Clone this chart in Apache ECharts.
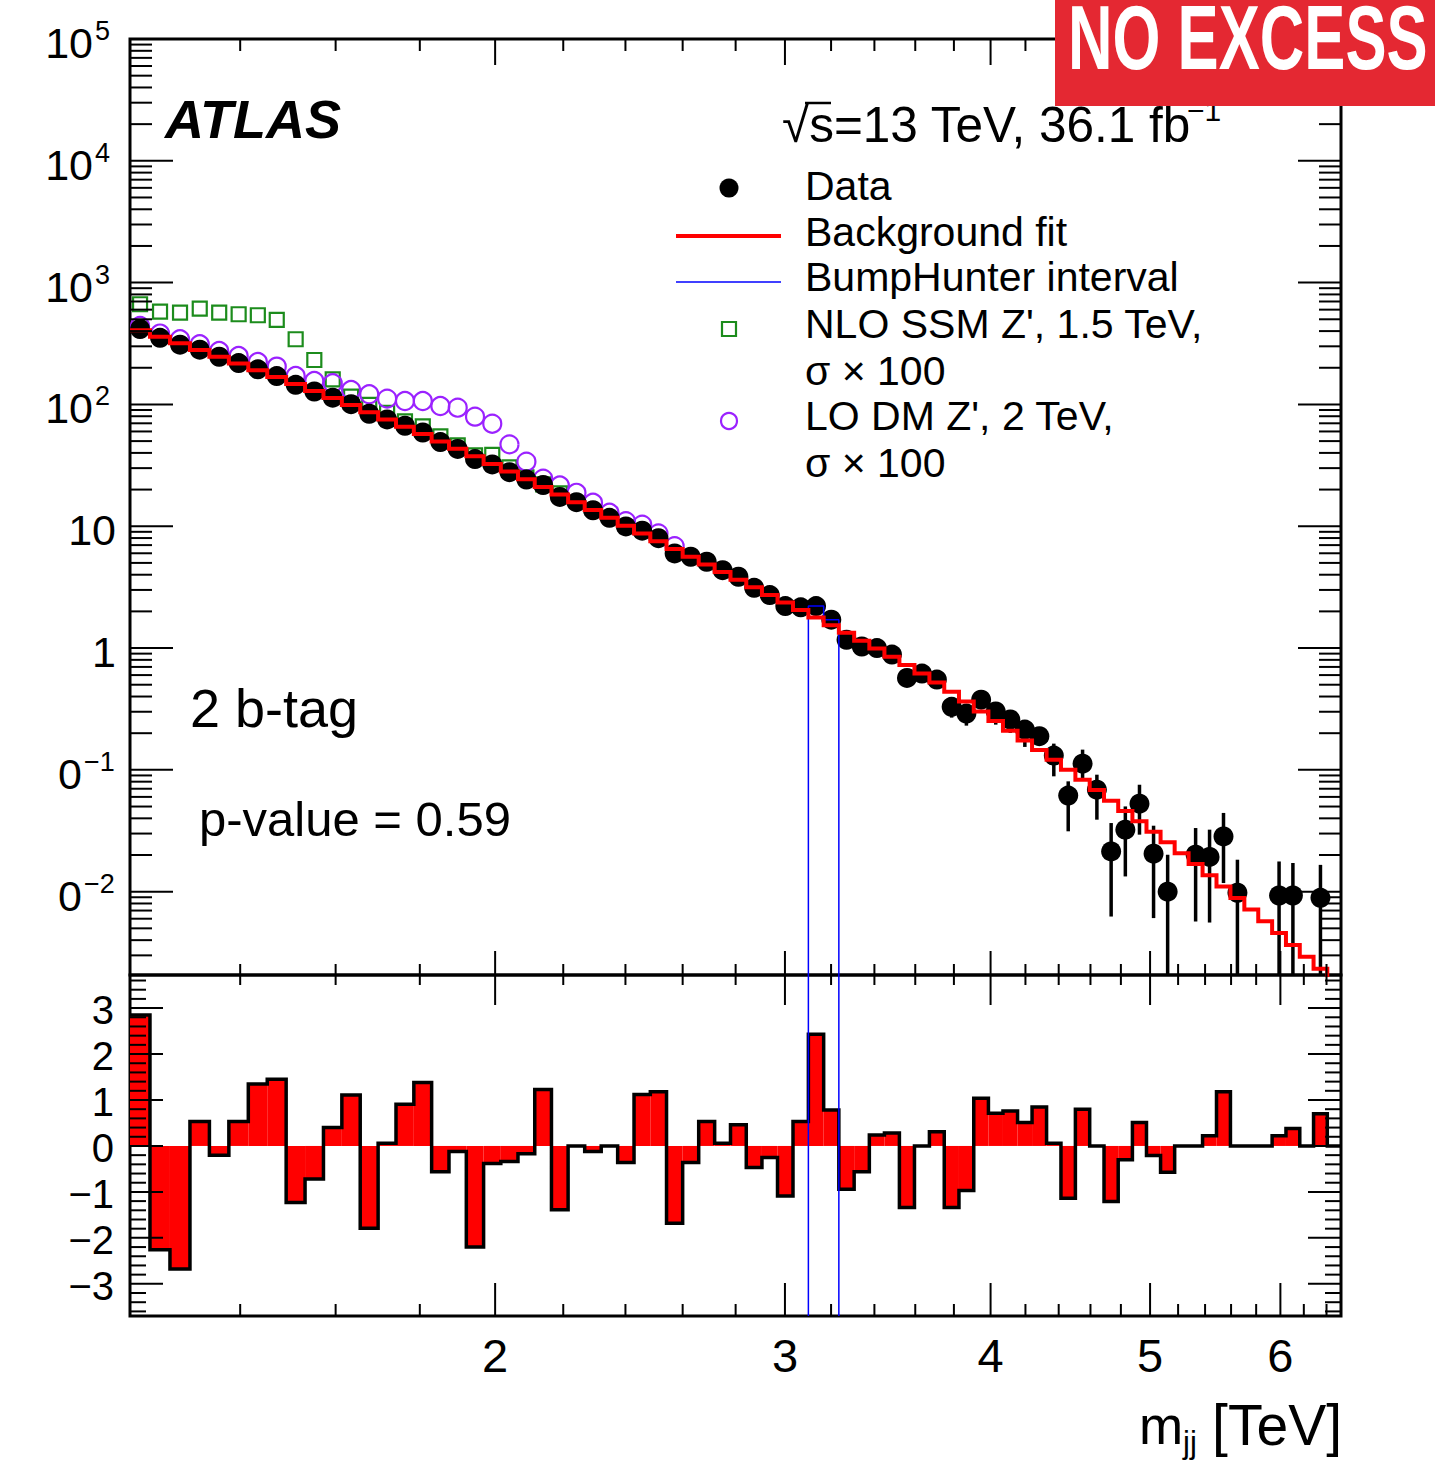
<!DOCTYPE html>
<html>
<head>
<meta charset="utf-8">
<script src="https://cdn.jsdelivr.net/npm/echarts@6/dist/echarts.min.js"></script>
<style>
html,body{margin:0;padding:0;background:#fff;}
#chart{width:1435px;height:1461px;}
</style>
</head>
<body>
<div id="chart"></div>
<script>
// ---------------- data ----------------
// bin edges of m_jj in GeV
const BIN_EDGES_GEV = [1200,1234,1269,1305,1341,1378,1416,1454,1493,1533,1573,1614,1656,1698,1741,1785,1830,1875,1921,1968,
  2016,2065,2114,2164,2215,2267,2320,2374,2429,2485,2542,2600,2659,2719,2780,2842,2905,2969,3034,3100,
  3167,3235,3305,3376,3448,3521,3596,3672,3749,3827,3907,3988,4070,4154,4239,4326,4414,4504,4595,4688,
  4782,4878,4975,5074,5175,5277,5381,5487,5595,5705,5817,5931,6047,6165,6285,6407,6531];

// data per bin (null = empty bin)
const DATA = [416.2,352.2,309.6,281.5,246.3,218.6,194.1,170.8,144.9,127.7,
  113.7,100.5,83.8,75.3,66.8,58.8,49.1,43.1,35.6,32.2,
  27.8,24.2,21.8,17.4,15.75,13.53,11.72,9.96,9.19,7.98,
  5.98,5.62,5.11,4.36,3.85,3.12,2.72,2.21,2.16,2.21,
  1.71,1.17,1.03,1.00,0.884,0.569,0.617,0.551,0.329,0.290,
  0.377,0.302,0.259,0.214,0.189,0.131,0.0615,0.1125,0.0688,0.0214,
  0.0323,0.0528,0.0205,0.0100,null,0.0201,0.0193,0.0284,0.0098,null,
  null,0.0093,0.0093,null,0.0089,null];

// visible error bars, bins 49..76 (lower 0 = runs to the bottom of the frame)
const ERR_FIRST_BIN = 49;
const DATA_ERR_LO = [0.2685,0.2307,0.3226,0.2352,0.2010,0.1543,0.1611,0.0885,0.0313,0.0830,0.0390,0.00625,0.01334,0.02938,
  0.00607,0,null,0.00569,0.00558,0.01177,0,null,null,0,0,null,0,null];
const DATA_ERR_HI = [0.3775,0.3243,0.4416,0.3548,0.3027,0.2506,0.2208,0.1642,0.0805,0.1466,0.0913,0.0366,0.0501,0.0755,
  0.0348,0.0201,null,0.0333,0.0323,0.0443,0.0183,null,null,0.0177,0.0172,null,0.0166,null];

// background fit per bin
const FIT = [406.2,359.4,317.5,280.0,246.8,217.3,191.0,167.8,147.2,129.0,
  113.0,98.8,86.3,75.3,65.7,57.2,49.7,43.2,37.5,32.5,
  28.1,24.3,21.0,18.2,15.75,13.59,11.72,10.11,8.73,7.53,
  6.51,5.63,4.86,4.21,3.64,3.15,2.73,2.37,2.05,1.78,
  1.54,1.333,1.150,0.991,0.850,0.727,0.617,0.522,0.437,0.3634,
  0.3019,0.2513,0.2092,0.1744,0.1455,0.1211,0.1004,0.0829,0.0683,0.0559,
  0.0460,0.0378,0.0311,0.0254,0.0207,0.01686,0.01366,0.01103,0.00888,0.00713,
  0.00571,0.00457,0.00365,0.00292,0.00233,0.00185];

// NLO SSM Z' 1.5 TeV (x100) markers, first bins
const SSM_ZPRIME = [664.6,578.8,567.9,612.6,567.9,550.0,539.8,493.7,342.7,231.6,160.8,115.9,
  99.2,85.3,72.6,66.1,54.7,46.1,38.2,38.5,30.4,25.2,22.1,18.6];
// LO DM Z' 2 TeV (x100) markers, first bins
const DM_ZPRIME = [440.8,381.6,342.7,311.7,274.7,249.9,223.0,204.4,171.2,155.7,149.1,131.3,
  121.1,111.6,106.6,106.6,97.0,94.1,79.4,69.5,47.0,33.9,24.6,21.6,18.8,15.6,12.9,11.0,10.3,8.73,6.86];

// significance per bin (lower panel)
const SIGNIFICANCE = [2.85,-2.26,-2.68,0.53,-0.20,0.53,1.35,1.45,-1.23,-0.72,
  0.40,1.11,-1.79,0.06,0.91,1.38,-0.56,-0.12,-2.20,-0.38,
  -0.34,-0.17,1.23,-1.39,0.0,-0.12,0.0,-0.36,1.12,1.18,
  -1.68,-0.36,0.53,0.06,0.46,-0.47,-0.25,-1.09,0.53,2.43,
  0.78,-0.94,-0.56,0.24,0.28,-1.34,0.0,0.31,-1.34,-0.97,
  1.04,0.71,0.76,0.51,0.85,0.06,-1.14,0.80,0.0,-1.21,
  -0.30,0.51,-0.21,-0.57,0.0,0.0,0.22,1.18,0.0,0.0,
  0.0,0.22,0.38,0.0,0.70,0.0];

// BumpHunter interval [TeV]
const BUMPHUNTER_INTERVAL = [3.100, 3.235];

// axis ranges and ticks
const X_MIN = 1.2, X_MAX = 6.531;
const Y_MIN = 0.00207, Y_MAX = 1e5;
const R_MIN = -3.7, R_MAX = 3.72;
const X_MAJOR_TICKS = [2, 3, 4, 5, 6];
const X_TICK_LABELS = ['2', '3', '4', '5', '6'];
const X_MINOR_TICKS = [1.4,1.6,1.8,2.2,2.4,2.6,2.8,3.2,3.4,3.6,3.8,4.2,4.4,4.6,4.8,5.2,5.4,5.6,5.8,6.2,6.4];
const Y_TICK_VALUES = [1e5, 1e4, 1e3, 1e2, 10, 1, 0.1, 0.01];
const Y_TICK_BASES  = ['10', '10', '10', '10', '10', '1', '0', '0'];
const Y_TICK_SUPS   = ['5', '4', '3', '2', '', '', '\u22121', '\u22122'];
const R_TICK_VALUES = [-3, -2, -1, 0, 1, 2, 3];
const R_TICK_LABELS = ['\u22123', '\u22122', '\u22121', '0', '1', '2', '3'];

// ---------------- derived tables for the library ----------------
const FONT = '"Liberation Sans", Arial, Helvetica, sans-serif';
const edgesTeV = BIN_EDGES_GEV.map(e => e / 1000);
const centers = DATA.map((_, i) => (edgesTeV[i] + edgesTeV[i + 1]) / 2);
const dataPts = [];
DATA.forEach((v, i) => { if (v !== null) dataPts.push([centers[i], v]); });
const errPts = [];
DATA_ERR_LO.forEach((lo, k) => {
  if (lo === null) return;
  const i = ERR_FIRST_BIN - 1 + k;
  errPts.push([centers[i], Math.max(lo, Y_MIN), DATA_ERR_HI[k]]);
});
const fitPts = [];
FIT.forEach((v, i) => { fitPts.push([edgesTeV[i], v]); fitPts.push([edgesTeV[i + 1], v]); });
const ssmPts = SSM_ZPRIME.map((v, i) => [centers[i], v]);
const dmPts = DM_ZPRIME.map((v, i) => [centers[i], v]);
const sigRects = SIGNIFICANCE.map((s, i) => [edgesTeV[i], edgesTeV[i + 1], s]);
const sigLine = [];
SIGNIFICANCE.forEach((s, i) => { sigLine.push([edgesTeV[i], s]); sigLine.push([edgesTeV[i + 1], s]); });
// BumpHunter histogram in the top panel follows the data in the interval bins
const bhPts = [];
DATA.forEach((v, i) => {
  const lo = edgesTeV[i], hi = edgesTeV[i + 1];
  if (lo >= BUMPHUNTER_INTERVAL[0] - 1e-9 && hi <= BUMPHUNTER_INTERVAL[1] + 1e-9) {
    if (bhPts.length === 0) bhPts.push([lo, Y_MIN]);
    bhPts.push([lo, v]); bhPts.push([hi, v]);
  }
});
bhPts.push([BUMPHUNTER_INTERVAL[1], Y_MIN]);

// ---------------- frame ticks & labels ----------------
function lineEl(ch, x1, y1, x2, y2, w) {
  ch.push({type: 'line', shape: {x1, y1, x2, y2}, style: {stroke: '#000', lineWidth: w || 2}});
}
function textEl(ch, x, y, text, size, align, lh) {
  ch.push({type: 'text', x, y, style: {
    text, fill: '#000', font: size + 'px ' + FONT, lineHeight: lh || size,
    textAlign: align, align: align, textVerticalAlign: 'middle', verticalAlign: 'middle'
  }});
}
function mainFrame(params, api) {
  const ch = [];
  const xL = api.coord([X_MIN, 1])[0], xR = api.coord([X_MAX, 1])[0];
  const yT = api.coord([2, Y_MAX])[1], yB = api.coord([2, Y_MIN])[1];
  for (let k = -3; k <= 4; k++) {
    for (let j = 1; j <= 9; j++) {
      const v = j * Math.pow(10, k);
      if (v <= Y_MIN || v >= Y_MAX * 0.999) continue;
      const y = api.coord([2, v])[1];
      const len = j === 1 ? 43 : 22;
      lineEl(ch, xL, y, xL + len, y); lineEl(ch, xR, y, xR - len, y);
    }
  }
  X_MINOR_TICKS.forEach(t => { const x = api.coord([t, 1])[0]; lineEl(ch, x, yT, x, yT + 12); lineEl(ch, x, yB, x, yB - 11); });
  X_MAJOR_TICKS.forEach(t => { const x = api.coord([t, 1])[0]; lineEl(ch, x, yT, x, yT + 26); lineEl(ch, x, yB, x, yB - 24); });
  Y_TICK_VALUES.forEach((v, i) => {
    const y = api.coord([2, v])[1];
    const sup = Y_TICK_SUPS[i];
    const baseRight = sup === '' ? xL - 14 : (sup.length === 1 ? xL - 37 : xL - 48);
    textEl(ch, baseRight, y + 4, Y_TICK_BASES[i], 43, 'right', 34);
    if (sup !== '') textEl(ch, baseRight + 2, y - 8, sup, 27, 'left', 20);
  });
  return {type: 'group', children: ch};
}
function ratioFrame(params, api) {
  const ch = [];
  const xL = api.coord([X_MIN, 0])[0], xR = api.coord([X_MAX, 0])[0];
  const yT = api.coord([2, R_MAX])[1], yB = api.coord([2, R_MIN])[1];
  for (let n = -18; n <= 18; n++) {
    const v = n / 5;
    const y = api.coord([2, v])[1];
    const len = n % 5 === 0 ? 33 : 16;
    lineEl(ch, xL, y, xL + len, y); lineEl(ch, xR, y, xR - len, y);
  }
  X_MINOR_TICKS.forEach(t => { const x = api.coord([t, 0])[0]; lineEl(ch, x, yT, x, yT + 10); lineEl(ch, x, yB, x, yB - 12); });
  X_MAJOR_TICKS.forEach(t => { const x = api.coord([t, 0])[0]; lineEl(ch, x, yT, x, yT + 30); lineEl(ch, x, yB, x, yB - 33); });
  R_TICK_VALUES.forEach((v, i) => {
    const y = api.coord([2, v])[1];
    textEl(ch, xL - 16, y + 2, R_TICK_LABELS[i], 40, 'right', 34);
  });
  X_MAJOR_TICKS.forEach((t, i) => {
    const x = api.coord([t, 0])[0];
    textEl(ch, x, yB + 39, X_TICK_LABELS[i], 47, 'center', 40);
  });
  // BumpHunter interval lines across the lower panel
  BUMPHUNTER_INTERVAL.forEach(t => {
    const x = api.coord([t, 0])[0];
    ch.push({type: 'line', shape: {x1: x, y1: yT, x2: x, y2: yB}, style: {stroke: '#0000FF', lineWidth: 1.5}});
  });
  return {type: 'group', children: ch};
}

// ---------------- chart ----------------
const chart = echarts.init(document.getElementById('chart'), null, {renderer: 'svg', width: 1435, height: 1461});
const GREEN = '#1C8C1C', PURPLE = '#9B22FF';
function gText(x, y, t, font, align, lh, extra) {
  return Object.assign({type: 'text', x, y, z: 120,
    style: {text: t, fill: '#000', font: font, lineHeight: lh,
      textAlign: align, align: align, textVerticalAlign: 'middle', verticalAlign: 'middle'}}, extra || {});
}
const legendText = (y, t) => gText(805, y, t, '41px ' + FONT, 'left', 40);

chart.setOption({
  animation: false,
  backgroundColor: '#fff',
  grid: [
    {left: 130, top: 39, width: 1211, height: 936, show: true, borderColor: '#000', borderWidth: 3, backgroundColor: 'transparent', containLabel: false},
    {left: 130, top: 975, width: 1211, height: 341, show: true, borderColor: '#000', borderWidth: 3, backgroundColor: 'transparent', containLabel: false}
  ],
  xAxis: [
    {type: 'log', logBase: 10, gridIndex: 0, min: X_MIN, max: X_MAX, show: false},
    {type: 'log', logBase: 10, gridIndex: 1, min: X_MIN, max: X_MAX, show: false}
  ],
  yAxis: [
    {type: 'log', logBase: 10, gridIndex: 0, min: Y_MIN, max: Y_MAX, show: false},
    {type: 'value', gridIndex: 1, min: R_MIN, max: R_MAX, show: false}
  ],
  series: [
    {name: "NLO SSM Z'", type: 'scatter', xAxisIndex: 0, yAxisIndex: 0, z: 2, silent: true,
      symbol: 'rect', symbolSize: 14, data: ssmPts,
      itemStyle: {color: 'rgba(0,0,0,0)', borderColor: GREEN, borderWidth: 2.2, opacity: 1}},
    {name: "LO DM Z'", type: 'scatter', xAxisIndex: 0, yAxisIndex: 0, z: 3, silent: true,
      symbol: 'circle', symbolSize: 18, data: dmPts,
      itemStyle: {color: 'rgba(0,0,0,0)', borderColor: PURPLE, borderWidth: 2.2, opacity: 1}},
    {name: 'Data errors', type: 'custom', xAxisIndex: 0, yAxisIndex: 0, z: 4, silent: true, clip: true,
      data: errPts,
      renderItem: (p, api) => {
        const a = api.coord([api.value(0), api.value(1)]), b = api.coord([api.value(0), api.value(2)]);
        return {type: 'line', shape: {x1: a[0], y1: a[1], x2: b[0], y2: b[1]}, style: {stroke: '#000', lineWidth: 3.5}};
      }},
    {name: 'Data', type: 'scatter', xAxisIndex: 0, yAxisIndex: 0, z: 4, silent: true,
      symbol: 'circle', symbolSize: 20, data: dataPts, itemStyle: {color: '#000', opacity: 1}},
    {name: 'BumpHunter interval', type: 'line', xAxisIndex: 0, yAxisIndex: 0, z: 5, silent: true,
      data: bhPts, symbol: 'none', lineStyle: {color: '#0000FF', width: 1.5}},
    {name: 'Background fit', type: 'line', xAxisIndex: 0, yAxisIndex: 0, z: 6, silent: true, clip: true,
      data: fitPts, symbol: 'none', lineStyle: {color: '#FF0000', width: 4, join: 'miter'}},
    {name: 'main frame', type: 'custom', xAxisIndex: 0, yAxisIndex: 0, z: 10, silent: true, clip: false,
      data: [[2, 1]], renderItem: mainFrame},
    {name: 'Significance fill', type: 'custom', xAxisIndex: 1, yAxisIndex: 1, z: 2, silent: true, clip: true,
      data: sigRects,
      renderItem: (p, api) => {
        const a = api.coord([api.value(0), 0]), b = api.coord([api.value(1), api.value(2)]);
        return {type: 'rect', shape: {x: a[0], y: Math.min(a[1], b[1]), width: b[0] - a[0], height: Math.abs(b[1] - a[1])},
          style: {fill: '#FF0000'}};
      }},
    {name: 'Significance', type: 'line', xAxisIndex: 1, yAxisIndex: 1, z: 3, silent: true,
      data: sigLine, symbol: 'none', lineStyle: {color: '#000', width: 3.5, join: 'miter'}},
    {name: 'ratio frame', type: 'custom', xAxisIndex: 1, yAxisIndex: 1, z: 10, silent: true, clip: false,
      data: [[2, 0]], renderItem: ratioFrame}
  ],
  graphic: [
    gText(165, 119, 'ATLAS', 'italic bold 54px ' + FONT, 'left', 50),
    gText(782, 124, '\u221As=13 TeV, 36.1 fb', '49.5px ' + FONT, 'left', 46),
    {type: 'line', z: 120, shape: {x1: 805, y1: 103, x2: 831, y2: 103}, style: {stroke: '#000', lineWidth: 2.5}},
    gText(1187, 110, '\u22121', '30px ' + FONT, 'left', 24),
    {type: 'circle', z: 120, shape: {cx: 729, cy: 188, r: 9.5}, style: {fill: '#000'}},
    {type: 'line', z: 120, shape: {x1: 676, y1: 236, x2: 781, y2: 236}, style: {stroke: '#FF0000', lineWidth: 4}},
    {type: 'line', z: 120, shape: {x1: 676, y1: 282, x2: 781, y2: 282}, style: {stroke: '#0000FF', lineWidth: 1.5}},
    {type: 'rect', z: 120, shape: {x: 722, y: 322, width: 14, height: 14}, style: {fill: 'none', stroke: GREEN, lineWidth: 2.2}},
    {type: 'circle', z: 120, shape: {cx: 729, cy: 421, r: 8}, style: {fill: 'none', stroke: PURPLE, lineWidth: 2.2}},
    legendText(186, 'Data'),
    legendText(232, 'Background fit'),
    legendText(277, 'BumpHunter interval'),
    legendText(324, "NLO SSM Z', 1.5 TeV,"),
    legendText(371, '\u03C3 \u00D7 100'),
    legendText(416, "LO DM Z', 2 TeV,"),
    legendText(463, '\u03C3 \u00D7 100'),
    gText(190, 708, '2 b-tag', '54px ' + FONT, 'left', 52),
    gText(199, 819, 'p-value = 0.59', '49px ' + FONT, 'left', 46),
    gText(1139, 1425, 'm', '53px ' + FONT, 'left', 46),
    gText(1183, 1442, 'jj', '31px ' + FONT, 'left', 30),
    gText(1342, 1425, '[TeV]', '57px ' + FONT, 'right', 54),
    {type: 'rect', z: 130, shape: {x: 1055, y: 0, width: 380, height: 106}, style: {fill: '#E42832'}},
    gText(1068, 37, 'NO EXCESS', 'bold 90px ' + FONT, 'left', 66, {scaleX: 0.685, z: 131, style: {
      text: 'NO EXCESS', fill: '#FFFFFF', font: 'bold 90px ' + FONT, lineHeight: 66,
      textAlign: 'left', align: 'left', textVerticalAlign: 'middle', verticalAlign: 'middle'}})
  ]
});
</script>
</body>
</html>
